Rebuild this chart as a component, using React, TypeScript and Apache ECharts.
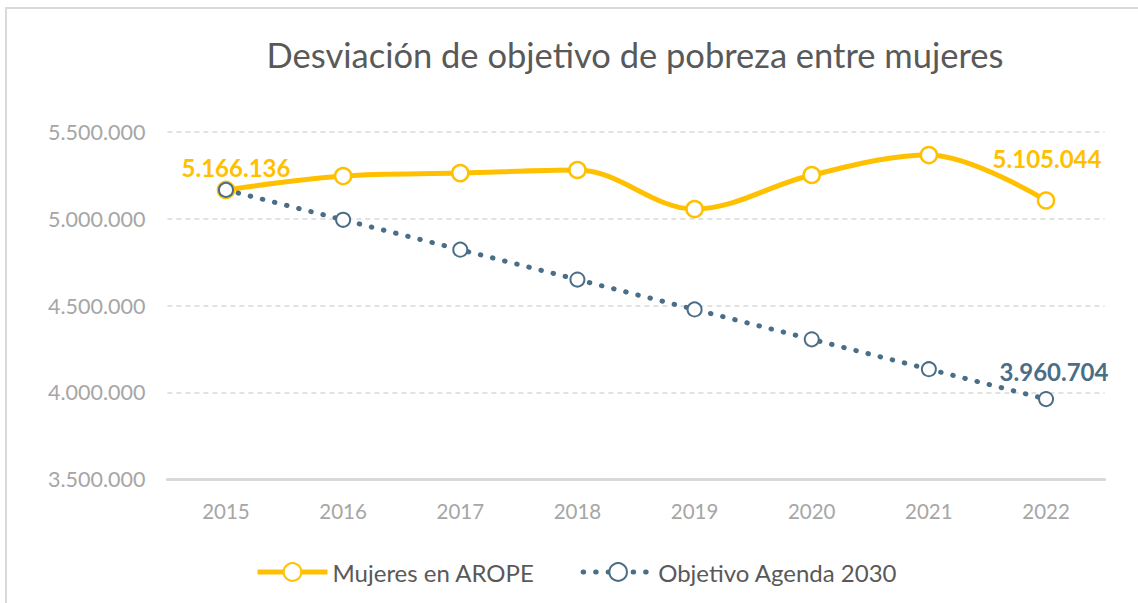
import React, { useEffect, useRef } from "react";
import * as echarts from "echarts";

const years = ["2015", "2016", "2017", "2018", "2019", "2020", "2021", "2022"];
const mujeresArope = [5166136, 5246000, 5263000, 5281000, 5056000, 5252000, 5367000, 5105044];
const objetivoAgenda = [5166136, 4993931, 4821726, 4649521, 4477316, 4305111, 4132906, 3960704];
const yTicks = { min: 3500000, max: 5500000, interval: 500000 };

const YELLOW = "#FFC000";
const BLUE = "#4A6E87";
const FONT = "Lato, 'Open Sans', sans-serif";

const fmt = (v: number) => String(Math.round(v)).replace(/\B(?=(\d{3})+(?!\d))/g, ".");

export default function App() {
  const ref = useRef<HTMLDivElement>(null);
  useEffect(() => {
    if (!ref.current) return;
    const chart = echarts.init(ref.current, undefined, { renderer: "svg" });
    const last = years.length - 1;
    chart.setOption({
      animation: false,
      backgroundColor: "#ffffff",
      textStyle: { fontFamily: FONT },
      title: {
        text: "Desviación de objetivo de pobreza entre mujeres",
        left: 630,
        top: 32,
        textAlign: "center",
        textStyle: { fontFamily: FONT, fontSize: 34.5, fontWeight: "normal", color: "#595959" },
      },
      graphic: [
        {
          type: "rect",
          shape: { x: 6, y: 8, width: 1150, height: 620 },
          style: { fill: "none", stroke: "#d9d9d9", lineWidth: 2 },
          silent: true,
        },
      ],
      legend: {
        top: 555,
        left: 250,
        itemWidth: 70,
        itemHeight: 22,
        itemGap: 46,
        textStyle: { fontFamily: FONT, fontSize: 24, color: "#595959" },
        data: [
          { name: "Mujeres en AROPE", lineStyle: { width: 5 } },
          { name: "Objetivo Agenda 2030", lineStyle: { width: 5 } },
        ],
      },
      grid: { left: 167.4, right: 33.4, top: 132, bottom: 124 },
      xAxis: {
        type: "category",
        data: years,
        boundaryGap: true,
        axisLine: { lineStyle: { color: "#d9d9d9", width: 3 } },
        axisTick: { show: false },
        axisLabel: { color: "#a6a6a6", fontSize: 20.5, margin: 21, fontFamily: FONT },
      },
      yAxis: {
        type: "value",
        min: yTicks.min,
        max: yTicks.max,
        interval: yTicks.interval,
        axisLine: { show: false },
        axisTick: { show: false },
        splitLine: { lineStyle: { color: "#d9d9d9", width: 1.5, type: [5, 4] } },
        axisLabel: {
          color: "#a6a6a6",
          fontSize: 21.5,
          margin: 22,
          fontFamily: FONT,
          formatter: (v: number) => fmt(v),
        },
      },
      series: [
        {
          name: "Mujeres en AROPE",
          type: "line",
          smooth: 0.35,
          data: mujeresArope.map((v, i) => {
            if (i === 0)
              return { value: v, label: { show: true, position: "top", distance: 1, offset: [10, 0] } };
            if (i === last)
              return { value: v, label: { show: true, position: "top", distance: 21, offset: [1, 0] } };
            return v;
          }),
          symbol: "circle",
          symbolSize: 16,
          itemStyle: { color: "#ffffff", borderColor: YELLOW, borderWidth: 2.5 },
          lineStyle: { color: YELLOW, width: 5 },
          label: {
            show: false,
            color: YELLOW,
            fontWeight: "bold",
            fontSize: 24,
            fontFamily: FONT,
            formatter: (p: any) => fmt(p.value),
          },
          z: 2,
        },
        {
          name: "Objetivo Agenda 2030",
          type: "line",
          data: objetivoAgenda.map((v, i) => {
            if (i === last)
              return { value: v, label: { show: true, position: "top", distance: 8, offset: [8, 0] } };
            return v;
          }),
          symbol: "circle",
          symbolSize: 14,
          itemStyle: { color: "#ffffff", borderColor: BLUE, borderWidth: 2 },
          lineStyle: { color: BLUE, width: 5, type: [0.5, 12], cap: "round" },
          label: {
            show: false,
            color: BLUE,
            fontWeight: "bold",
            fontSize: 24,
            fontFamily: FONT,
            formatter: (p: any) => fmt(p.value),
          },
          z: 3,
        },
      ],
    });
    return () => chart.dispose();
  }, []);
  return (
    <div
      ref={ref}
      style={{ position: "absolute", left: 0, top: 0, width: 1138, height: 603 }}
    />
  );
}
